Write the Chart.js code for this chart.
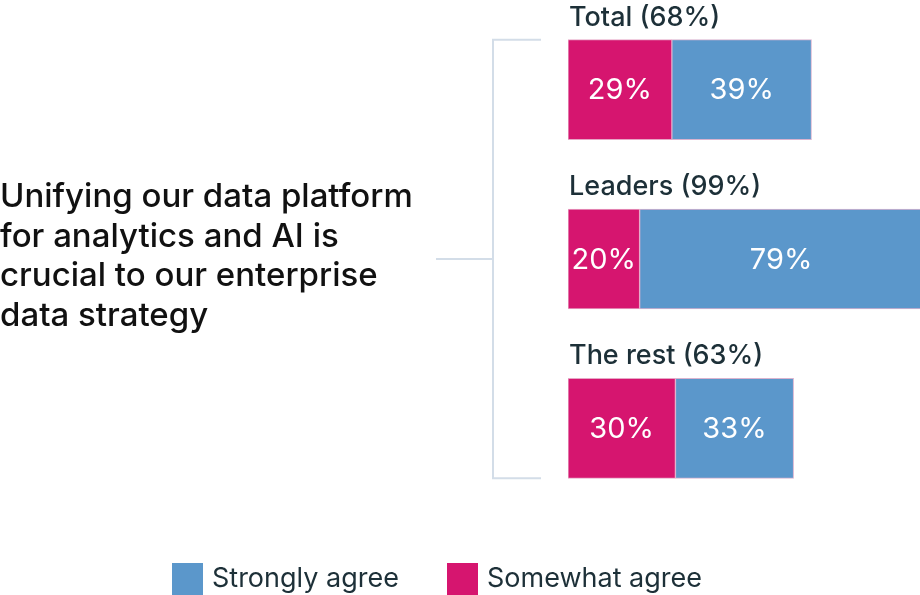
<!DOCTYPE html>
<html>
<head>
<meta charset="utf-8">
<script src="https://cdn.jsdelivr.net/npm/chart.js@4.4.1/dist/chart.umd.min.js"></script>
<style>
  html, body { margin: 0; padding: 0; background: #fff; }
  #wrap { position: relative; width: 920px; height: 595px; }
</style>
</head>
<body>
<div id="wrap"><canvas id="agreeChart" width="920" height="595"></canvas></div>
<script>
const groups = ['Total (68%)', 'Leaders (99%)', 'The rest (63%)'];
const somewhatAgree = [29, 20, 30];
const stronglyAgree = [39, 79, 33];
const statement = ['Unifying our data platform', 'for analytics and AI is', 'crucial to our enterprise', 'data strategy'];
const legendItems = ['Strongly agree', 'Somewhat agree'];

const PINK = '#d6156f';
const BLUE = '#5b97cb';
const FONT = 'Inter, "DejaVu Sans", sans-serif';

// draws the statement, bracket, group labels, value labels and legend
const decorations = {
    id: 'decorations',
    afterDatasetsDraw(chart) {
        const c = chart.ctx;
        const pinkBars = chart.getDatasetMeta(0).data;
        const blueBars = chart.getDatasetMeta(1).data;
        const left = chart.chartArea.left;

        c.save();

        // value labels inside bars
        c.fillStyle = '#fff';
        c.font = '29px ' + FONT;
        c.textAlign = 'center';
        c.textBaseline = 'middle';
        [pinkBars, blueBars].forEach((bars, di) => {
            const vals = di === 0 ? somewhatAgree : stronglyAgree;
            bars.forEach((bar, i) => {
                const p = bar.getCenterPoint();
                c.fillText(vals[i] + '%', p.x, p.y + 1);
            });
        });

        // group labels above bars
        c.fillStyle = '#1d3038';
        c.font = '500 27px ' + FONT;
        c.textAlign = 'left';
        c.textBaseline = 'alphabetic';
        pinkBars.forEach((bar, i) => {
            c.fillText(groups[i], left + 1, bar.y - bar.height / 2 - 14);
        });

        // bracket
        const top = pinkBars[0].y - pinkBars[0].height / 2;
        const bottom = pinkBars[2].y + pinkBars[2].height / 2;
        const mid = pinkBars[1].y;
        c.strokeStyle = '#d3dde8';
        c.lineWidth = 2;
        c.beginPath();
        c.moveTo(541, top); c.lineTo(493, top); c.lineTo(493, bottom); c.lineTo(541, bottom);
        c.moveTo(436, mid); c.lineTo(493, mid);
        c.stroke();

        // statement
        c.fillStyle = '#111';
        c.font = '500 33px ' + FONT;
        statement.forEach((line, i) => {
            c.fillText(line, 0, 207 + i * 39.5);
        });

        // legend
        const legendX = [172, 447];
        const legendColors = [BLUE, PINK];
        c.font = '27px ' + FONT;
        legendItems.forEach((txt, i) => {
            c.fillStyle = legendColors[i];
            c.fillRect(legendX[i], 563, 31, 32);
            c.fillStyle = '#1d3038';
            c.fillText(txt, legendX[i] + 40, 587);
        });

        c.restore();
    }
};

new Chart(document.getElementById('agreeChart'), {
    type: 'bar',
    data: {
        labels: groups,
        datasets: [{
            label: 'Somewhat agree',
            data: somewhatAgree,
            backgroundColor: PINK,
            borderColor: '#e7a6c6',
            borderWidth: 1,
            borderSkipped: false
        }, {
            label: 'Strongly agree',
            data: stronglyAgree,
            backgroundColor: BLUE,
            borderColor: '#d9b3cf',
            borderWidth: 1,
            borderSkipped: false
        }]
    },
    options: {
        indexAxis: 'y',
        responsive: false,
        animation: false,
        layout: { padding: { left: 568, right: 0, top: 5, bottom: 82 } },
        datasets: { bar: { barThickness: 100 } },
        scales: {
            x: { stacked: true, min: 0, max: 98.3, display: false },
            y: { stacked: true, display: false }
        },
        plugins: {
            legend: { display: false },
            tooltip: { enabled: false }
        }
    },
    plugins: [decorations]
});
</script>
</body>
</html>
